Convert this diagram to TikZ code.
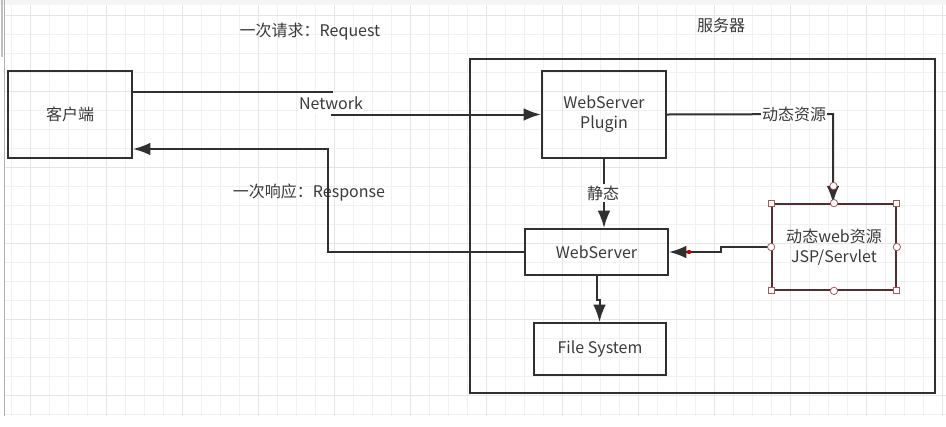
\documentclass[tikz,border=0pt]{standalone}
\usepackage{fontspec}
\setmainfont{Noto Sans CJK SC}
\usetikzlibrary{arrows.meta,calc}
\definecolor{ln}{HTML}{303030}
\definecolor{txt}{HTML}{3A3A3A}
\definecolor{gmin}{HTML}{F1F1F1}
\definecolor{gmaj}{HTML}{E5E5E5}
\definecolor{sel}{HTML}{4E3030}
\definecolor{hdl}{HTML}{A45A5A}
\begin{document}
\begin{tikzpicture}[x=0.75pt,y=-0.75pt,
  box/.style={draw=ln, line width=1.5pt, rectangle, align=center, text=txt,
    font=\fontsize{12}{15}\selectfont, inner sep=0pt},
  conn/.style={draw=ln, line width=1.5pt},
  arr/.style={conn, -{Latex[length=13pt,width=9.5pt]}},
  lbl/.style={text=txt, font=\fontsize{12}{15}\selectfont, inner sep=1pt},
  wlbl/.style={lbl, fill=white, inner ysep=3pt},
  hsq/.style={draw=hdl, fill=white, line width=0.6pt, rectangle, minimum size=4.5pt, inner sep=0pt},
  hci/.style={draw=hdl, fill=white, line width=0.6pt, circle, minimum size=5.5pt, inner sep=0pt},
]
\useasboundingbox (0,0) rectangle (946,426);
\fill[white] (0,0) rectangle (946,426);
\fill[black!4] (0,0) rectangle (946,5);
% grid
\foreach \i in {0,...,49} {\draw[gmin, line width=0.6pt] (11.7+19*\i,5) -- (11.7+19*\i,416);}
\foreach \i in {0,...,21} {\draw[gmin, line width=0.6pt] (5,15.7+19*\i) -- (946,15.7+19*\i);}
\foreach \i in {0,...,12} {\draw[gmaj, line width=0.7pt] (30.7+76*\i,5) -- (30.7+76*\i,416);}
\foreach \i in {0,...,5} {\draw[gmaj, line width=0.7pt] (5,15.7+76*\i) -- (946,15.7+76*\i);}
\draw[black!30, line width=0.8pt] (4.5,0) -- (4.5,416);
\draw[black!25, line width=0.8pt] (2,0) -- (2,57);

% server container
\node[box, minimum width=465*0.75pt, minimum height=334*0.75pt] (srv) at (702.5,226) {};
\node[lbl] (srvlbl) at (721,25) {服务器};

% nodes
\node[box, minimum width=124*0.75pt, minimum height=87*0.75pt] (cli) at (70,114.5) {客户端};
\node[box, minimum width=124*0.75pt, minimum height=87*0.75pt] (plug) at (604,114.5) {WebServer\\Plugin};
\node[box, minimum width=143*0.75pt, minimum height=46*0.75pt] (ws) at (596.5,252) {WebServer};
\node[box, minimum width=132*0.75pt, minimum height=52*0.75pt] (fs) at (600,349) {File System};
\node[box, draw=sel, line width=1.3pt, minimum width=124*0.75pt, minimum height=86*0.75pt] (dyn) at (834,247) {动态web资源\\JSP/Servlet};

% labels
\node[lbl] (reqlbl) at (310,32) {一次请求：Request};
\node[lbl] (reslbl) at (309,193) {一次响应：Response};

% request
\coordinate (rq1) at ($(cli.east)+(0,-22.5)$);
\coordinate (rq2) at (332,92);
\draw[arr] (rq1) -- (rq2) -- (rq2 |- plug.west) -- (plug.west);
\node[wlbl] (net) at (331,103.5) {Network};

% response
\coordinate (rs1) at (328,252);
\draw[arr] (ws.west) -- (rs1) -- (328,149) -- ($(cli.east)+(0,34.5)$);

% static
\draw[arr] (plug.south) -- (plug.south |- ws.north);
\node[lbl, fill=white] (stat) at (603,193) {静态};

% dynamic
\coordinate (d1) at (833,114);
\draw[arr] (plug.east) -- (d1) -- (d1 |- dyn.north);
\node[lbl, fill=white] (dynlbl) at (794,114) {动态资源};
\node[hci] (srchdl) at (833.5,186) {};

% dynamic -> webserver
\coordinate (j1) at (721,247);
\coordinate (j2) at (721,252);
\draw[arr] (dyn.west) -- (j1) -- (j2) -- (ws.east);
\fill[red!75!black] (689,252) circle (2.2);

% webserver -> file system
\coordinate (f1) at ($(ws.south)+(0,24)$);
\coordinate (f2) at ($(f1)+(3,0)$);
\draw[arr] (ws.south) -- (f1) -- (f2) -- (f2 |- fs.north);

% selection handles
\node[hsq] at (dyn.north west) {};
\node[hsq] at (dyn.north east) {};
\node[hsq] at (dyn.south west) {};
\node[hsq] at (dyn.south east) {};
\node[hci] at (dyn.north) {};
\node[hci] at (dyn.south) {};
\node[hci] at (dyn.west) {};
\node[hci] at (dyn.east) {};
\end{tikzpicture}
\end{document}
